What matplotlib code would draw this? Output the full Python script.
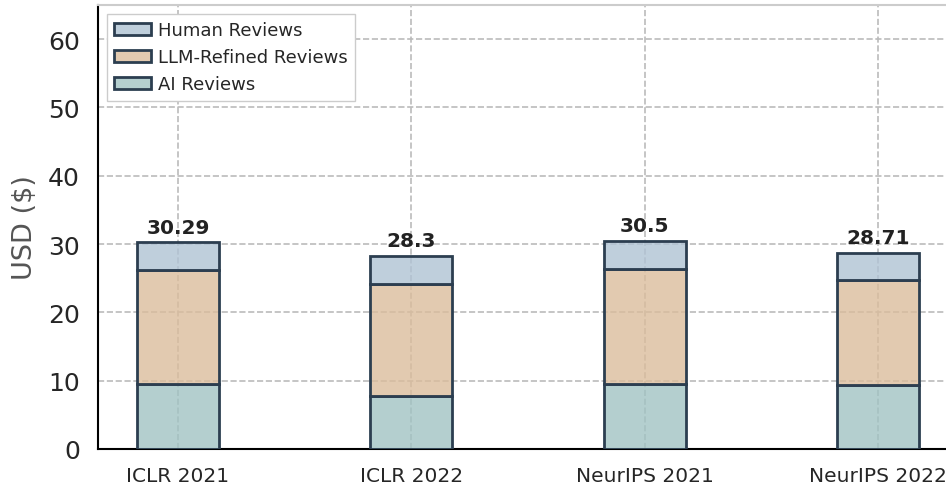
import numpy as np
import matplotlib
matplotlib.use('Agg')
import matplotlib.pyplot as plt

venues = ['ICLR 2021', 'ICLR 2022', 'NeurIPS 2021', 'NeurIPS 2022']
ai_cost = [9.55, 7.75, 9.5, 9.4]
llm_cost = [16.6, 16.45, 16.9, 15.4]
totals = [30.29, 28.3, 30.5, 28.71]
human_cost = [t - a - l for t, a, l in zip(totals, ai_cost, llm_cost)]

edge = '#2c3e50'
c_ai = (0.63, 0.765, 0.765, 0.8)
c_llm = (0.86, 0.74, 0.61, 0.8)
c_human = (0.69, 0.765, 0.83, 0.8)

fig = plt.figure(figsize=(9.46, 4.89), dpi=100)
ax = fig.add_axes([98/946, 39/489, 860/946, 444/489])

x = np.arange(len(venues))
w = 0.35
ax.bar(x, ai_cost, w, color=c_ai, edgecolor=edge, linewidth=2, label='AI Reviews', zorder=3)
ax.bar(x, llm_cost, w, bottom=ai_cost, color=c_llm, edgecolor=edge, linewidth=2,
       label='LLM-Refined Reviews', zorder=3)
bottom2 = [a + l for a, l in zip(ai_cost, llm_cost)]
ax.bar(x, human_cost, w, bottom=bottom2, color=c_human, edgecolor=edge, linewidth=2,
       label='Human Reviews', zorder=3)

for xi, t in zip(x, totals):
    ax.annotate('%g' % t, (xi, t), xytext=(0, 4), textcoords='offset points',
                ha='center', va='bottom', fontsize=14.5, fontweight='bold', color='#222222')

ax.set_ylim(0, 65)
ax.set_yticks([0, 10, 20, 30, 40, 50, 60])
ax.set_xticks(x)
ax.set_xticklabels(venues)
ax.tick_params(axis='y', length=0, pad=13, labelsize=18, labelcolor='#262626')
ax.tick_params(axis='x', length=0, pad=12, labelsize=14.5, labelcolor='#262626')
ax.set_ylabel('USD ($)', fontsize=19.5, color='#555555', labelpad=7)

ax.grid(True, linestyle='--', color='#bbbbbb', linewidth=1.2, zorder=0)
ax.set_axisbelow(True)
ax.spines['left'].set_color('black')
ax.spines['left'].set_linewidth(1.5)
ax.spines['bottom'].set_color('black')
ax.spines['bottom'].set_linewidth(1.5)
ax.spines['top'].set_color('#cccccc')
ax.spines['top'].set_linewidth(1.5)
ax.spines['right'].set_visible(False)

h, l = ax.get_legend_handles_labels()
leg = ax.legend(h[::-1], l[::-1], loc='upper left', fontsize=13, fancybox=False,
                edgecolor='#cccccc', framealpha=1, borderpad=0.4, handlelength=2.05,
                handletextpad=0.4, labelspacing=0.5, borderaxespad=0,
                bbox_to_anchor=(9/860, 1 - 9/444))
for t in leg.get_texts():
    t.set_color('#262626')

fig.savefig('out.png', dpi=100)
